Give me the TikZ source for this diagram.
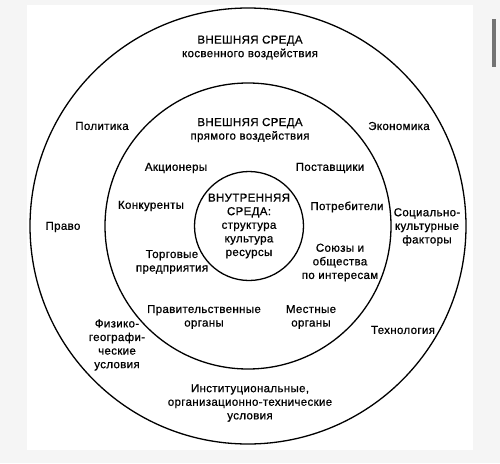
\documentclass[tikz,border=0pt]{standalone}
\usepackage{fontspec}
\setmainfont[LetterSpace=3, FakeBold=0.8]{Liberation Sans}

\tikzset{
	lbl/.style = {align = center, font = \fontsize{11.5}{13.6}\selectfont, inner sep = 0pt},
	ring/.style = {line width = 1.3pt}
}

\begin{document}
\begin{tikzpicture}[x = 1pt, y = -1pt]
				\useasboundingbox (0, 0) rectangle (500, 463);
				\fill [black!4] (0, 0) rectangle (500, 463);
				\fill [white] (27, 5) rectangle (473, 450);
				\fill [black!55] (492, 19) rectangle (496, 67);
				
				% three rings
				\draw [ring] (248, 226) circle (218);
				\draw [ring] (248, 226) circle (143);
				\draw [ring] (249, 226) circle (54.5);
				
				% outer ring: indirect influence
				\node [lbl] (outer) at (250, 47.5) {ВНЕШНЯЯ СРЕДА\\косвенного воздействия};
				\node [lbl] (polit) at (102, 126) {Политика};
				\node [lbl] (econ) at (399, 126) {Экономика};
				\node [lbl] (pravo) at (63, 227) {Право};
				\node [lbl] (social) at (427, 227) {Социально-\\культурные\\факторы};
				\node [lbl] (fiz) at (117, 345) {Физико-\\географи-\\ческие\\условия};
				\node [lbl] (tech) at (403, 330) {Технология};
				\node [lbl] (inst) at (250, 403) {Институциональные,\\организационно-технические\\условия};
				
				% middle ring: direct influence
				\node [lbl] (middle) at (250, 130) {ВНЕШНЯЯ СРЕДА\\прямого воздействия};
				\node [lbl] (akc) at (176, 168) {Акционеры};
				\node [lbl] (post) at (330, 168) {Поставщики};
				\node [lbl] (konk) at (151, 206) {Конкуренты};
				\node [lbl] (potr) at (347, 207) {Потребители};
				\node [lbl] (torg) at (172, 262) {Торговые\\предприятия};
				\node [lbl] (soyuz) at (340, 262.5) {Союзы и\\общества\\по интересам};
				\node [lbl] (prav) at (204, 317) {Правительственные\\органы};
				\node [lbl] (mest) at (311, 317) {Местные\\органы};
				
				% core
				\node [lbl] (inner) at (249, 226) {ВНУТРЕННЯЯ\\СРЕДА:\\структура\\культура\\ресурсы};
			\end{tikzpicture}
\end{document}
